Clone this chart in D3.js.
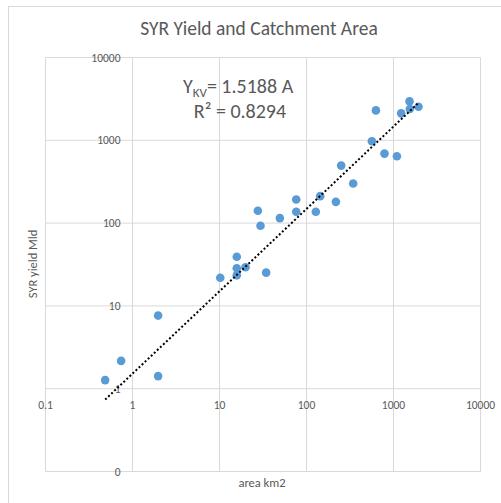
<!DOCTYPE html>
<html>
<head>
<meta charset="utf-8">
<script src="https://cdn.jsdelivr.net/npm/d3@7/dist/d3.min.js"></script>
<style>
  html, body { margin: 0; padding: 0; background: #fff; }
  svg { display: block; font-family: Calibri, Carlito, Lato, sans-serif; }
</style>
</head>
<body>
<div id="chart"></div>
<script>
// catchment area (km2) vs SYR yield (Ml/d)
const areaKm2 = [0.485, 0.74, 1.97, 1.97, 10.2, 15.8, 15.8, 15.8, 19.9, 34.4,
                 27.6, 29.6, 49.4, 76.2, 76.2, 128, 143.7, 217.7, 344, 250.5,
                 564, 628, 788, 1094, 1225, 1528, 1540, 1938];
const yieldMld = [1.27, 2.17, 1.42, 7.64, 21.9, 39.3, 28.5, 23.4, 29.3, 25.2,
                  140.7, 92.8, 114.9, 193, 136.9, 137, 211.5, 180.6, 300.8, 495,
                  972, 2297, 691, 641, 2115, 2951, 2384, 2547];
const xTicks = [0.1, 1, 10, 100, 1000, 10000];
const yTicks = [0.1, 1, 10, 100, 1000, 10000];
const yTickLabels = ["0", "1", "10", "100", "1000", "10000"];
const trendA = 1.5188;
const trendB = 0.995;
const eqText = "= 1.5188 A";
const r2Text = "R² = 0.8294";

const width = 501, height = 503;
const grey = "#595959", gridCol = "#d9d9d9";

const svg = d3.select("#chart").append("svg")
    .attr("width", width)
    .attr("height", height);

// outer chart border
svg.append("rect")
    .attr("x", 8.5).attr("y", 6.5)
    .attr("width", 520).attr("height", 520)
    .attr("fill", "#fff")
    .attr("stroke", gridCol);

const x = d3.scaleLog().domain([0.1, 10000]).range([45.5, 480.5]);
const y = d3.scaleLog().domain([0.1, 10000]).range([471.5, 57.5]);

svg.append("text")
    .attr("x", 259).attr("y", 35)
    .attr("text-anchor", "middle")
    .attr("font-size", "19.5px")
    .attr("fill", grey)
    .text("SYR Yield and Catchment Area");

// gridlines
svg.append("g").selectAll("line")
    .data(yTicks).join("line")
    .attr("x1", x(0.1)).attr("x2", x(10000))
    .attr("y1", d => y(d)).attr("y2", d => y(d))
    .attr("stroke", gridCol);
svg.append("g").selectAll("line")
    .data(xTicks).join("line")
    .attr("y1", y(0.1)).attr("y2", y(10000))
    .attr("x1", d => x(d)).attr("x2", d => x(d))
    .attr("stroke", gridCol);

// tick labels: axes cross at 1
svg.append("g").selectAll("text")
    .data(yTicks).join("text")
    .attr("x", x(1) - 12)
    .attr("y", d => y(d))
    .attr("dy", "0.35em")
    .attr("text-anchor", "end")
    .attr("font-size", "11.5px")
    .attr("fill", grey)
    .text((d, i) => yTickLabels[i]);

svg.append("g").selectAll("text")
    .data(xTicks).join("text")
    .attr("x", d => x(d))
    .attr("y", y(1) + 16)
    .attr("dy", "0.35em")
    .attr("text-anchor", "middle")
    .attr("font-size", "11.5px")
    .attr("fill", grey)
    .text(d => d3.format("~g")(d));

// axis titles
svg.append("text")
    .attr("x", 262).attr("y", 483)
    .attr("dy", "0.35em")
    .attr("text-anchor", "middle")
    .attr("font-size", "12.5px")
    .attr("fill", grey)
    .text("area km2");

svg.append("text")
    .attr("transform", "translate(33,264) rotate(-90)")
    .attr("dy", "0.35em")
    .attr("text-anchor", "middle")
    .attr("font-size", "12.5px")
    .attr("fill", grey)
    .text("SYR yield Mld");

// points
svg.append("g").selectAll("circle")
    .data(areaKm2).join("circle")
    .attr("cx", d => x(d))
    .attr("cy", (d, i) => y(yieldMld[i]))
    .attr("r", 4.3)
    .attr("fill", "#5b9bd5");

// power trendline over data range
const xs = d3.range(0, 41).map(i => {
    const lo = Math.log10(d3.min(areaKm2)), hi = Math.log10(d3.max(areaKm2));
    return Math.pow(10, lo + (hi - lo) * i / 40);
});
svg.append("path")
    .datum(xs)
    .attr("d", d3.line().x(d => x(d)).y(d => y(trendA * Math.pow(d, trendB))))
    .attr("fill", "none")
    .attr("stroke", "#000")
    .attr("stroke-width", 2)
    .attr("stroke-dasharray", "2,2.2");

// equation label
const eq = svg.append("text")
    .attr("x", 183).attr("y", 93)
    .attr("font-size", "20px")
    .attr("fill", grey);
eq.append("tspan").text("Y");
eq.append("tspan").attr("font-size", "13px").attr("dy", 4).text("KV");
eq.append("tspan").attr("dy", -4).text(eqText);

svg.append("text")
    .attr("x", 240).attr("y", 118)
    .attr("text-anchor", "middle")
    .attr("font-size", "20px")
    .attr("fill", grey)
    .text(r2Text);
</script>
</body>
</html>
